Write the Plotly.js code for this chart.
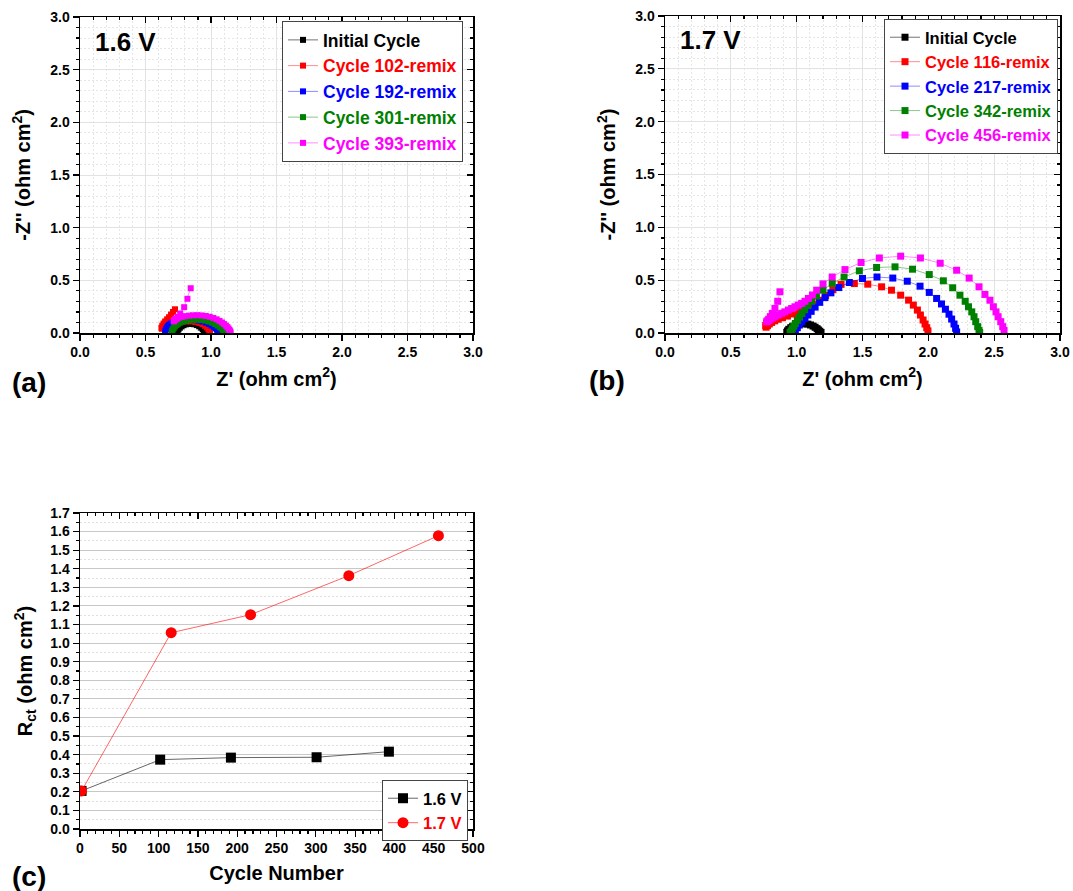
<!DOCTYPE html>
<html>
<head>
<meta charset="utf-8">
<script src="https://cdn.plot.ly/plotly-3.0.1.min.js"></script>
<style>html,body{margin:0;padding:0;background:#fff;}#chart{width:1073px;height:891px;}</style>
</head>
<body>
<div id="chart"></div>
<script>
// ---------- Panel (a): 1.6 V Nyquist ----------
const aNames = ['Initial Cycle','Cycle 102-remix','Cycle 192-remix','Cycle 301-remix','Cycle 393-remix'];
const aInitX = [0.74,0.745,0.752,0.762,0.775,0.79,0.808,0.828,0.85,0.872,0.892,0.91,0.925,0.937,0.945,0.951,0.955];
const aInitY = [0.005,0.02,0.035,0.05,0.063,0.074,0.082,0.086,0.087,0.083,0.075,0.064,0.05,0.037,0.025,0.013,0.004];
const a102X = [0.725,0.71,0.695,0.68,0.665,0.65,0.638,0.628,0.622,0.625,0.635,0.65,0.668,0.69,0.715,0.745,0.775,0.81,0.845,0.88,0.91,0.935,0.955,0.97,0.98,0.987,0.992];
const a102Y = [0.225,0.2,0.175,0.15,0.13,0.11,0.09,0.07,0.05,0.04,0.05,0.062,0.074,0.085,0.095,0.103,0.108,0.11,0.11,0.105,0.096,0.083,0.068,0.052,0.037,0.023,0.008];
const a192X = [0.65,0.652,0.656,0.662,0.67,0.68,0.692,0.707,0.725,0.748,0.775,0.805,0.838,0.872,0.905,0.935,0.962,0.985,1.005,1.022,1.035,1.045,1.052,1.057,1.06];
const a192Y = [0.005,0.02,0.035,0.05,0.064,0.077,0.089,0.1,0.108,0.115,0.12,0.123,0.124,0.122,0.117,0.108,0.097,0.085,0.071,0.057,0.044,0.031,0.02,0.01,0.003];
const a301X = [0.70,0.703,0.708,0.715,0.724,0.735,0.748,0.764,0.784,0.808,0.835,0.865,0.895,0.925,0.955,0.983,1.008,1.03,1.05,1.067,1.08,1.091,1.099,1.104,1.107];
const a301Y = [0.005,0.02,0.034,0.048,0.062,0.075,0.087,0.098,0.108,0.116,0.122,0.125,0.126,0.124,0.118,0.109,0.098,0.085,0.071,0.057,0.044,0.031,0.02,0.01,0.003];
const a393X = [0.845,0.82,0.795,0.765,0.745,0.73,0.72,0.715,0.718,0.727,0.74,0.757,0.778,0.803,0.832,0.863,0.895,0.928,0.96,0.99,1.018,1.043,1.065,1.084,1.1,1.114,1.125,1.134,1.141,1.146,1.15];
const a393Y = [0.425,0.325,0.245,0.185,0.155,0.135,0.12,0.11,0.115,0.125,0.135,0.145,0.153,0.16,0.165,0.168,0.169,0.167,0.162,0.154,0.143,0.13,0.115,0.1,0.085,0.07,0.056,0.042,0.029,0.017,0.006];

// ---------- Panel (b): 1.7 V Nyquist ----------
const bNames = ['Initial Cycle','Cycle 116-remix','Cycle 217-remix','Cycle 342-remix','Cycle 456-remix'];
const bInitX = [0.925,0.93,0.94,0.955,0.97,0.99,1.01,1.035,1.06,1.085,1.105,1.125,1.14,1.155,1.165,1.175,1.185];
const bInitY = [0.005,0.02,0.035,0.05,0.063,0.074,0.082,0.087,0.088,0.084,0.076,0.066,0.054,0.041,0.029,0.017,0.006];
const b116X = [0.772,0.765,0.768,0.778,0.792,0.81,0.833,0.86,0.892,0.93,0.972,1.02,1.07,1.12,1.17,1.22,1.275,1.337,1.438,1.54,1.645,1.72,1.79,1.85,1.886,1.917,1.94,1.96,1.975,1.988,1.997];
const b116Y = [0.09,0.07,0.055,0.07,0.085,0.1,0.115,0.13,0.145,0.16,0.18,0.205,0.235,0.27,0.31,0.355,0.41,0.46,0.468,0.462,0.437,0.405,0.358,0.311,0.264,0.217,0.17,0.123,0.085,0.05,0.02];
const b217X = [0.97,0.98,0.99,1.005,1.02,1.04,1.063,1.085,1.11,1.14,1.175,1.215,1.26,1.32,1.40,1.50,1.61,1.73,1.84,1.937,2.007,2.063,2.10,2.13,2.157,2.177,2.195,2.207,2.215];
const b217Y = [0.005,0.015,0.03,0.05,0.075,0.105,0.138,0.17,0.205,0.245,0.29,0.335,0.38,0.43,0.478,0.516,0.53,0.52,0.49,0.443,0.384,0.327,0.275,0.225,0.178,0.132,0.085,0.045,0.01];
const b342X = [0.95,0.958,0.967,0.978,0.99,1.005,1.022,1.04,1.06,1.085,1.114,1.15,1.2,1.27,1.36,1.476,1.607,1.747,1.88,2.007,2.114,2.185,2.24,2.28,2.305,2.33,2.347,2.36,2.375,2.385,2.39];
const b342Y = [0.005,0.02,0.04,0.065,0.09,0.12,0.15,0.185,0.22,0.26,0.3,0.35,0.405,0.47,0.53,0.588,0.62,0.626,0.604,0.553,0.494,0.428,0.358,0.3,0.248,0.2,0.154,0.107,0.06,0.025,0.005];
const b456X = [0.873,0.856,0.835,0.815,0.80,0.788,0.778,0.772,0.776,0.787,0.80,0.815,0.835,0.86,0.886,0.91,0.937,0.962,0.987,1.012,1.038,1.063,1.089,1.12,1.152,1.20,1.27,1.367,1.489,1.628,1.79,1.94,2.09,2.215,2.31,2.385,2.43,2.468,2.494,2.514,2.53,2.55,2.565,2.575];
const b456Y = [0.39,0.30,0.233,0.185,0.155,0.13,0.115,0.105,0.11,0.12,0.13,0.142,0.154,0.17,0.186,0.2,0.217,0.232,0.248,0.264,0.28,0.3,0.327,0.36,0.405,0.465,0.53,0.60,0.667,0.71,0.727,0.71,0.66,0.594,0.52,0.437,0.365,0.31,0.248,0.2,0.154,0.107,0.06,0.025];

// ---------- Panel (c): Rct vs cycle ----------
const c16Cycle = [2,102,192,301,393];
const c16Rct   = [0.205,0.373,0.384,0.386,0.416];
const c17Cycle = [2,116,217,342,456];
const c17Rct   = [0.205,1.056,1.153,1.363,1.578];

const colors = ['#000000','#FF0000','#0000FF','#008000','#FF00FF'];
const lineColors = ['rgba(0,0,0,0.55)','rgba(255,0,0,0.45)','rgba(0,0,255,0.45)','rgba(0,128,0,0.45)','rgba(255,0,255,0.45)'];
const FONT = 'Arial, "Liberation Sans", sans-serif';

function lbl(name, i){ return '<span style="color:' + colors[i] + '">' + name + '</span>'; }

const traces = [];
const aX = [aInitX,a102X,a192X,a301X,a393X], aY = [aInitY,a102Y,a192Y,a301Y,a393Y];
const bX = [bInitX,b116X,b217X,b342X,b456X], bY = [bInitY,b116Y,b217Y,b342Y,b456Y];
for (let i=0;i<5;i++){
  traces.push({x:aX[i], y:aY[i], xaxis:'x', yaxis:'y', mode:'lines+markers', name:lbl(aNames[i],i), legend:'legend',
    marker:{symbol:'square', size:6, color:colors[i]}, line:{color:lineColors[i], width:1}});
}
for (let i=0;i<5;i++){
  traces.push({x:bX[i], y:bY[i], xaxis:'x2', yaxis:'y2', mode:'lines+markers', name:lbl(bNames[i],i), legend:'legend2',
    marker:{symbol:'square', size:7, color:colors[i]}, line:{color:lineColors[i], width:1}});
}
traces.push({x:c16Cycle, y:c16Rct, xaxis:'x3', yaxis:'y3', mode:'lines+markers', name:lbl('1.6 V',0), legend:'legend3',
  marker:{symbol:'square', size:10, color:'#000000'}, line:{color:'rgba(0,0,0,0.6)', width:1}});
traces.push({x:c17Cycle, y:c17Rct, xaxis:'x3', yaxis:'y3', mode:'lines+markers', name:lbl('1.7 V',1), legend:'legend3',
  marker:{symbol:'circle', size:11, color:'#FF0000'}, line:{color:'rgba(255,0,0,0.6)', width:1}});
// empty helper traces so the inward-ticked top/right frame axes are drawn
[['x4','y'],['x','y4'],['x5','y2'],['x2','y5'],['x6','y3'],['x3','y6']].forEach(p=>{
  traces.push({x:[], y:[], xaxis:p[0], yaxis:p[1], mode:'markers', showlegend:false, hoverinfo:'skip'});
});

const W = 1073, H = 891;
const tickFont = {family:FONT, size:14, color:'#000', weight:'bold'};
const titleFont = {family:FONT, size:20, color:'#000', weight:'bold'};

function nyqAxis(dom, title, standoff){
  return {domain:dom, range:[0,3], dtick:0.5, tickformat:'.1f', ticks:'outside', ticklen:6, tickwidth:1.2, tickcolor:'#000',
    showline:true, linecolor:'#000', linewidth:1.5, mirror:true, zeroline:false,
    showgrid:true, gridcolor:'#e2e2e2', gridwidth:1,
    minor:{dtick:0.1, ticks:'outside', ticklen:3, tickcolor:'#000', showgrid:true, gridcolor:'#e6e6e6', griddash:'2px,2px', gridwidth:1},
    tickfont:tickFont, title:{text:title, font:titleFont, standoff:standoff}, fixedrange:true};
}
function frameAxis(over, anchor, side, range, dtick, mdtick){
  return {overlaying:over, anchor:anchor, side:side, range:range, dtick:dtick, ticks:'inside', ticklen:6, tickwidth:1.2, tickcolor:'#000',
    showticklabels:false, showgrid:false, showline:false, zeroline:false,
    minor:{dtick:mdtick, ticks:'inside', ticklen:3, tickcolor:'#000', showgrid:false}, fixedrange:true};
}

const layout = {
  width:W, height:H, margin:{l:0,r:0,t:0,b:0}, paper_bgcolor:'#fff', plot_bgcolor:'#fff',
  font:{family:FONT, color:'#000'},
  xaxis: Object.assign(nyqAxis([80/W,473/W], "Z' (ohm cm<sup>2</sup>)", 12), {anchor:'y'}),
  yaxis: Object.assign(nyqAxis([1-333/H,1-17/H], "-Z'' (ohm cm<sup>2</sup>)", 14), {anchor:'x'}),
  xaxis2: Object.assign(nyqAxis([665/W,1060/W], "Z' (ohm cm<sup>2</sup>)", 12), {anchor:'y2'}),
  yaxis2: Object.assign(nyqAxis([1-333/H,1-16/H], "-Z'' (ohm cm<sup>2</sup>)", 14), {anchor:'x2'}),
  xaxis3: {domain:[80/W,473/W], anchor:'y3', range:[0,500], dtick:50, ticks:'outside', ticklen:6, tickwidth:1.2, tickcolor:'#000',
    showline:true, linecolor:'#000', linewidth:1.5, mirror:true, zeroline:false, showgrid:false,
    minor:{dtick:10, ticks:'outside', ticklen:3, tickcolor:'#000', showgrid:false},
    tickfont:tickFont, title:{text:'Cycle Number', font:titleFont, standoff:10}, fixedrange:true},
  yaxis3: {domain:[1-829/H,1-513/H], anchor:'x3', range:[0,1.7], dtick:0.1, tickformat:'.1f', ticks:'outside', ticklen:6, tickwidth:1.2, tickcolor:'#000',
    showline:true, linecolor:'#000', linewidth:1.5, mirror:true, zeroline:false,
    showgrid:true, gridcolor:'#c8c8c8', gridwidth:1,
    minor:{dtick:0.05, ticks:'outside', ticklen:3, tickcolor:'#000', showgrid:true, gridcolor:'#e0e0e0', griddash:'2px,2px', gridwidth:1},
    tickfont:tickFont, title:{text:'R<sub>ct</sub> (ohm cm<sup>2</sup>)', font:titleFont, standoff:12}, fixedrange:true},
  xaxis4: frameAxis('x','y','top',[0,3],0.5,0.1),
  yaxis4: frameAxis('y','x','right',[0,3],0.5,0.1),
  xaxis5: frameAxis('x2','y2','top',[0,3],0.5,0.1),
  yaxis5: frameAxis('y2','x2','right',[0,3],0.5,0.1),
  xaxis6: frameAxis('x3','y3','top',[0,500],50,10),
  yaxis6: frameAxis('y3','x3','right',[0,1.7],0.1,0.05),
  legend: {x:282/W, y:1-21/H, xanchor:'left', yanchor:'top', bgcolor:'#fff', bordercolor:'#444', borderwidth:1,
    font:{family:FONT, size:17.5, weight:'bold'}, tracegroupgap:0, itemwidth:30},
  legend2: {x:884/W, y:1-19/H, xanchor:'left', yanchor:'top', bgcolor:'#fff', bordercolor:'#444', borderwidth:1,
    font:{family:FONT, size:16.5, weight:'bold'}, tracegroupgap:0, itemwidth:30},
  legend3: {x:382/W, y:1-780/H, xanchor:'left', yanchor:'top', bgcolor:'#fff', bordercolor:'#444', borderwidth:1,
    font:{family:FONT, size:16.5, weight:'bold'}, tracegroupgap:0, itemwidth:30},
  showlegend:true,
  annotations:[
    {text:'1.6 V', xref:'paper', yref:'paper', x:93/W, y:1-42/H, xanchor:'left', yanchor:'middle', showarrow:false, font:{family:FONT, size:26, weight:'bold', color:'#000'}},
    {text:'1.7 V', xref:'paper', yref:'paper', x:678/W, y:1-40/H, xanchor:'left', yanchor:'middle', showarrow:false, font:{family:FONT, size:26, weight:'bold', color:'#000'}},
    {text:'(a)', xref:'paper', yref:'paper', x:10/W, y:1-382/H, xanchor:'left', yanchor:'middle', showarrow:false, font:{family:FONT, size:28, weight:'bold', color:'#000'}},
    {text:'(b)', xref:'paper', yref:'paper', x:587/W, y:1-381/H, xanchor:'left', yanchor:'middle', showarrow:false, font:{family:FONT, size:28, weight:'bold', color:'#000'}},
    {text:'(c)', xref:'paper', yref:'paper', x:10/W, y:1-876/H, xanchor:'left', yanchor:'middle', showarrow:false, font:{family:FONT, size:28, weight:'bold', color:'#000'}}
  ]
};

Plotly.newPlot('chart', traces, layout, {staticPlot:true, displayModeBar:false});
</script>
</body>
</html>
